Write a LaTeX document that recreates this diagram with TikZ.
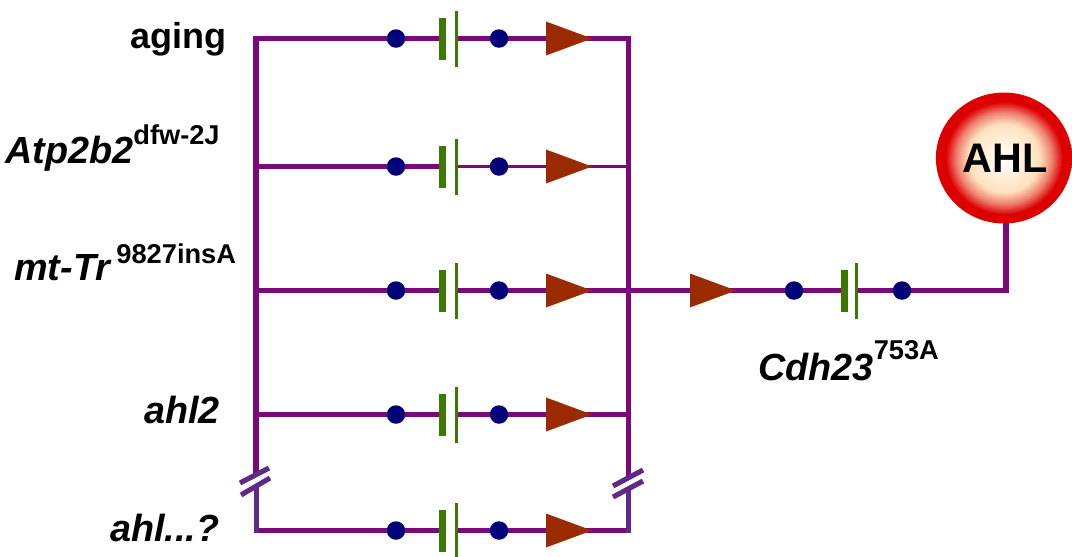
\documentclass[tikz,border=0pt]{standalone}
\usepackage{fontspec}
\setmainfont{Liberation Sans}
\usetikzlibrary{shapes.geometric, backgrounds}
\definecolor{wirepurple}{HTML}{7A0A7A}
\definecolor{breakpurple}{HTML}{5E2A86}
\definecolor{dotblue}{HTML}{000078}
\definecolor{bargreen}{HTML}{3A7A00}
\definecolor{triangred}{HTML}{9A2A00}
\definecolor{ahlred}{HTML}{DD0000}
\definecolor{ahlpale}{HTML}{FFE2BC}
\definecolor{ahlpink}{HTML}{EE8070}
\pgfdeclareradialshading{ahlshade}{\pgfpointorigin}{%
  color(0bp)=(white);
  color(13bp)=(ahlpale);
  color(17.5bp)=(ahlpink);
  color(21.5bp)=(ahlred);
  color(50bp)=(ahlred)}
\newcommand{\gensup}[3]{\textit{#1}\raisebox{#3}{\fontsize{15.5pt}{17pt}\selectfont #2}}
\tikzset{
    wire/.style={draw=wirepurple, line width=2.9pt},
    thinwire/.style={draw=wirepurple, line width=1.5pt},
    breakwire/.style={draw=breakpurple, line width=2.9pt},
    dotnode/.style={circle, fill=dotblue, minimum size=0.37cm, inner sep=0pt, outer sep=0pt},
    thickbar/.style={rectangle, fill=bargreen, minimum width=0.14cm, minimum height=0.84cm, inner sep=0pt, outer sep=0pt},
    thinbar/.style={rectangle, fill=bargreen, minimum width=0.06cm, minimum height=1.12cm, inner sep=0pt, outer sep=0pt},
    triang/.style={isosceles triangle, isosceles triangle apex angle=70, isosceles triangle stretches,
        fill=triangred, minimum width=0.68cm, minimum height=0.92cm, inner sep=0pt, outer sep=0pt},
    genelabel/.style={anchor=base west, inner sep=0pt, font=\fontsize{21.5pt}{24pt}\selectfont\bfseries}
}
\begin{document}
\begin{tikzpicture}[x=0.02cm, y=-0.02cm]
    \useasboundingbox (0,0) rectangle (1072,556);

    % Rows between the two rails
    \foreach \row/\ypos in {rowa/38.5, rowb/166.5, rowc/290.5, rowd/414.5, rowe/530.5} {
        \coordinate (\row left) at (256,\ypos);
        \coordinate (\row right) at (628.5,\ypos);
        \node[dotnode] (\row dota) at (396,\ypos) {};
        \node[thickbar] (\row thick) at (442.5,\ypos) {};
        \node[thinbar] (\row thin) at (456,\ypos) {};
        \node[dotnode] (\row dotb) at (499,\ypos) {};
        \node[triang, anchor=west] (\row tri) at (546,\ypos) {};
        \draw[wire] (\row left) -- (\row dota);
        \draw[wire] (\row dota) -- (\row thick);
    }
    \begin{scope}[on background layer]
    \foreach \row in {rowa, rowc, rowd, rowe} {
        \draw[wire] (\row thin) -- (\row dotb);
        \draw[wire] (\row dotb) -- (\row tri);
        \draw[wire] (\row tri.center) -- (\row right);
    }
    \draw[thinwire] (rowbthin) -- (rowbdotb);
    \draw[thinwire] (rowbdotb) -- (rowbtri);
    \draw[thinwire] (rowbtri.center) -- (rowbright);
    \end{scope}

    % Rails with their breaks
    \coordinate (lefttop) at (256,36);
    \coordinate (leftbreak) at (256,476);
    \coordinate (leftlow) at (256.5,487);
    \coordinate (righttop) at (628.5,36);
    \coordinate (rightbreak) at (628.5,478);
    \coordinate (rightlow) at (628.5,489);
    \draw[wire] (lefttop) -- (leftbreak);
    \draw[wire] (righttop) -- (rightbreak);
    \draw[breakwire] (leftlow) -- (256.5,533);
    \draw[breakwire] (rightlow) -- (628.5,533);
    \draw[breakwire] (240,483) -- (269,468);
    \draw[breakwire] (241,495) -- (270,478);
    \draw[breakwire] (613,486) -- (643,470);
    \draw[breakwire] (613,497) -- (643,481);

    % Output branch
    \node[triang, anchor=west] (outtri) at (690,290.5) {};
    \node[dotnode] (outdota) at (794,290.5) {};
    \node[thickbar] (outthick) at (844.5,290.5) {};
    \node[thinbar] (outthin) at (856,290.5) {};
    \node[dotnode] (outdotb) at (902,290.5) {};
    \node[circle, minimum size=2.62cm, inner sep=0pt, outer sep=0pt, shading=ahlshade, xscale=1.04] (ahl) at (1004,158) {};
    \node[font=\fontsize{23.5pt}{26pt}\selectfont\bfseries, inner sep=0pt] (ahltext) at (1005,158) {AHL};
    \coordinate (outcorner) at (1006,290.5);
    \begin{scope}[on background layer]
    \draw[wire] (rowcright) -- (outtri);
    \draw[wire] (outtri.center) -- (outdota);
    \draw[wire] (outdota) -- (outthick);
    \draw[wire] (outthin) -- (outdotb);
    \draw[wire, line join=miter] (outdotb) -- (outcorner) -- (outcorner |- ahl.south);
    \end{scope}

    % Labels
    \node[genelabel, font=\fontsize{20.5pt}{24pt}\selectfont\bfseries] (aging) at (130,48) {aging};
    \node[genelabel] (atp) at (5,163) {\gensup{Atp2b2}{dfw-2J}{0.38cm}};
    \node[genelabel] (mttr) at (14,280) {\gensup{mt-Tr}{\,9827insA}{0.34cm}};
    \node[genelabel] (ahltwo) at (144,423) {\textit{ahl2}};
    \node[genelabel] (ahlmore) at (110,541) {\textit{ahl...?}};
    \node[genelabel] (cdh) at (758,380) {\gensup{Cdh23}{753A}{0.42cm}};
\end{tikzpicture}
\end{document}
